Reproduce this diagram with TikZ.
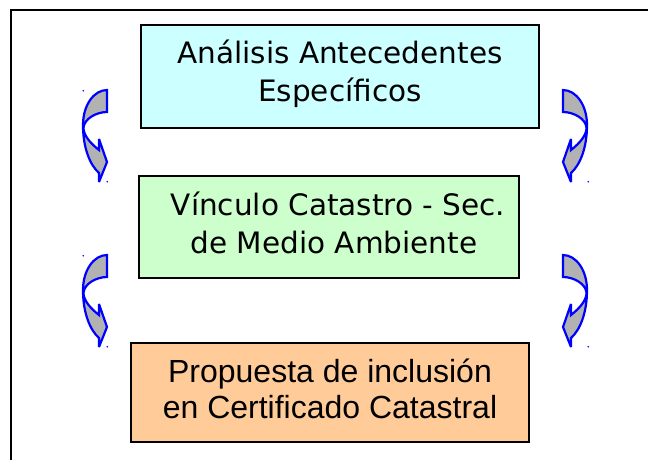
\documentclass[tikz,border=0pt]{standalone}
\usepackage{fontspec}
\setmainfont{DejaVu Sans}
\newfontfamily\arialfont{Liberation Sans}
\definecolor{boxcyan}{HTML}{CCFFFF}
\definecolor{boxgreen}{HTML}{CCFFCC}
\definecolor{boxorange}{HTML}{FFCC99}
\definecolor{arrgray}{RGB}{178,178,178}
\definecolor{arrblue}{RGB}{0,0,255}
\newcommand{\myCurvArrowPath}{%
  (107,90) .. controls (94,90) and (83,105) .. (83,125)
  .. controls (83,148) and (90,165) .. (99,173) -- (99,182) -- (107,162)
  -- (99,139) -- (99,150) .. controls (90,143) and (83.5,135) .. (83.5,128)
  .. controls (84,119) and (96,112) .. (107,112) -- cycle}
\tikzset{
  stagebox/.style={draw=black, line width=2pt},
  verdtext/.style={anchor=base, inner sep=0pt, font=\fontsize{29.5}{35}\selectfont},
  arialtext/.style={anchor=base, inner sep=0pt, font=\arialfont\fontsize{32}{37}\selectfont},
  arrowbody/.style={draw=arrblue, fill=arrgray, line width=2.2pt, line join=miter, miter limit=4},
  markdot/.style={fill=arrblue}
}
\begin{document}
\begin{tikzpicture}[x=1pt,y=-1pt]
\useasboundingbox (0,0) rectangle (648,459);
\begin{scope}
\clip (0,0) rectangle (648,459);
\draw[line width=2pt] (11,9.5) rectangle (700,520);
\end{scope}
% boxes
\path[stagebox, fill=boxcyan] (141,25) rectangle (539,128);
\path[stagebox, fill=boxgreen] (139,176) rectangle (519,278);
\path[stagebox, fill=boxorange] (131,343) rectangle (529,442);
% texts
\node[verdtext] (t1a) at (340,63) {Análisis Antecedentes};
\node[verdtext] (t1b) at (340,101) {Específicos};
\node[verdtext] (t2a) at (338,215) {Vínculo Catastro - Sec.};
\node[verdtext] (t2b) at (334,253) {de Medio Ambiente};
\node[arialtext] (t3a) at (330,382) {Propuesta de inclusión};
\node[arialtext] (t3b) at (330,418) {en Certificado Catastral};
% curved arrows, left side
\path[arrowbody] \myCurvArrowPath;
\begin{scope}[shift={(0,165)}]
\path[arrowbody] \myCurvArrowPath;
\end{scope}
% curved arrows, right side (mirrored)
\begin{scope}[shift={(670,0)}, xscale=-1]
\path[arrowbody] \myCurvArrowPath;
\end{scope}
\begin{scope}[shift={(670,165)}, xscale=-1]
\path[arrowbody] \myCurvArrowPath;
\end{scope}
% tiny markers
\fill[markdot] (83.3,90.7) circle (0.9pt) (107.3,181.7) circle (0.9pt);
\fill[markdot] (83.3,255.7) circle (0.9pt) (107.3,346.7) circle (0.9pt);
\fill[markdot] (588.3,181.7) circle (0.9pt) (588.3,346.7) circle (0.9pt);
\end{tikzpicture}
\end{document}
